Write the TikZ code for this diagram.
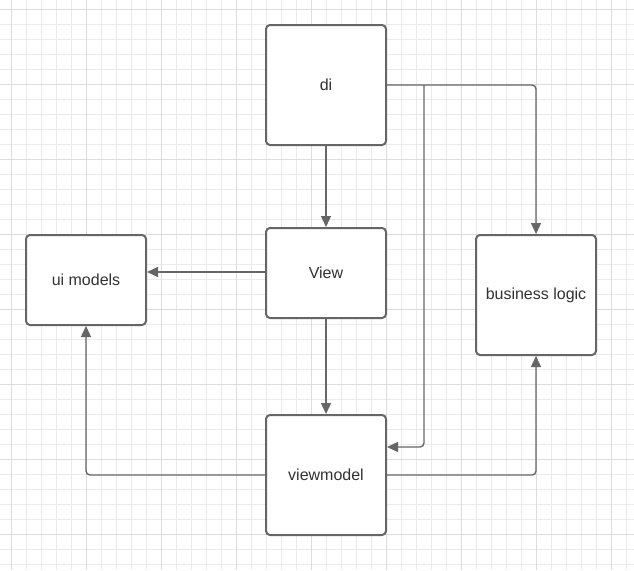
\documentclass[tikz,border=0pt]{standalone}
\usepackage{fontspec}
\setmainfont{Liberation Sans}
\usetikzlibrary{positioning}
\usetikzlibrary{arrows.meta}

\definecolor{linegray}{HTML}{666666}
\definecolor{minorgrid}{HTML}{EBEBEB}
\definecolor{majorgrid}{HTML}{DCDCDC}

\begin{document}
\begin{tikzpicture}[
    x=1pt, y=-1pt,
    block/.style = {draw=linegray, line width=2pt, rounded corners=4pt, fill=white,
      minimum width=120pt, font=\fontsize{16}{19}\selectfont, text=black!80},
    conn/.style = {draw=linegray, line width=1.4pt, rounded corners=4pt,
      -{Triangle[length=11pt, width=10pt]}},
    ]
    \useasboundingbox (0,0) rectangle (634,570);
    \fill[white] (0,0) rectangle (634,570);

    % grid
    \foreach \x in {11,26,...,634} { \draw[minorgrid, line width=1pt] (\x,0) -- (\x,570); }
    \foreach \y in {9,24,...,570} { \draw[minorgrid, line width=1pt] (0,\y) -- (634,\y); }
    \foreach \x in {11,86,...,634} { \draw[majorgrid, line width=1pt] (\x,0) -- (\x,570); }
    \foreach \y in {9,84,...,570} { \draw[majorgrid, line width=1pt] (0,\y) -- (634,\y); }

    \node[block, minimum height=120pt] (di) at (326,85) {di};
    \node[block, minimum height=90pt] (view) at (326,273) {View};
    \node[block, minimum height=90pt] (ui) at (86,280) {ui models};
    \node[block, minimum height=120pt] (bl) at (536,295) {business logic};
    \node[block, minimum height=120pt] (vm) at (326,475) {viewmodel};

    \coordinate (split) at (424,85);

    \draw[conn] (di) -- (view);
    \draw[conn] ([yshift=1pt]view.west) -- ([yshift=1pt]view.west -| ui.east);
    \draw[conn] (view) -- (vm);
    \draw[conn] (di.east) -| (bl.north);
    \draw[conn] (split) |- ([yshift=28pt]vm.east);
    \draw[conn] (vm.west) -| (ui.south);
    \draw[conn] (vm.east) -| (bl.south);

  \end{tikzpicture}
\end{document}
